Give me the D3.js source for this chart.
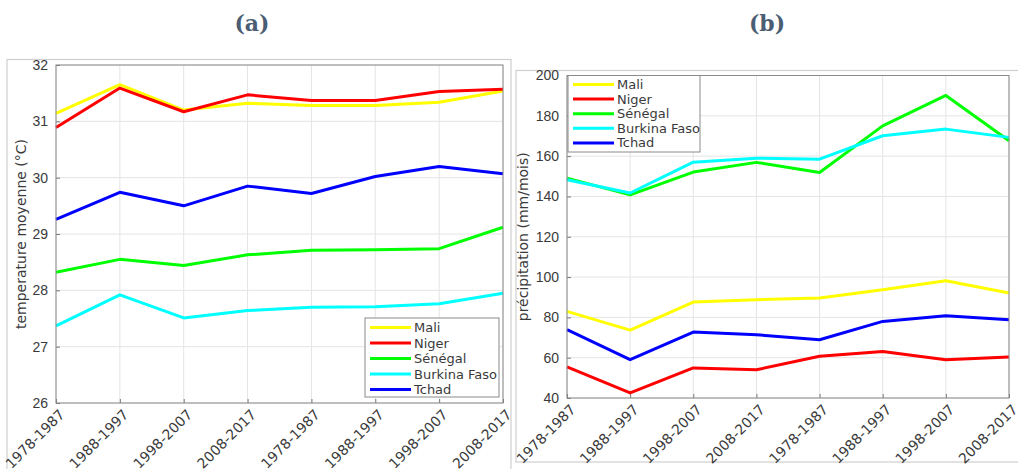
<!DOCTYPE html>
<html>
<head>
<meta charset="utf-8">
<script src="https://cdn.jsdelivr.net/npm/d3@7"></script>
<style>
  body { margin: 0; background: #fff; }
  svg { display: block; font-family: "DejaVu Sans", sans-serif; }
</style>
</head>
<body>
<div id="chart"></div>
<script>
// Periods on the x axis (two repeated decades blocks)
const periods = ["1978-1987", "1988-1997", "1998-2007", "2008-2017",
                 "1978-1987", "1988-1997", "1998-2007", "2008-2017"];

const countries = ["Mali", "Niger", "Sénégal", "Burkina Faso", "Tchad"];
const colors = ["#ffff00", "#ff0000", "#00ff00", "#00ffff", "#0000ff"];

// (a) mean temperature (°C)
const tempMali    = [31.14, 31.65, 31.20, 31.32, 31.28, 31.28, 31.34, 31.54];
const tempNiger   = [30.89, 31.59, 31.17, 31.47, 31.37, 31.37, 31.53, 31.57];
const tempSenegal = [28.32, 28.55, 28.44, 28.63, 28.71, 28.72, 28.74, 29.12];
const tempBurkina = [27.37, 27.92, 27.51, 27.64, 27.70, 27.71, 27.76, 27.95];
const tempTchad   = [29.26, 29.74, 29.50, 29.85, 29.72, 30.02, 30.20, 30.07];
const tempTicks   = [26, 27, 28, 29, 30, 31, 32];

// (b) precipitation (mm/mois)
const precMali    = [83.0, 73.7, 87.6, 88.8, 89.6, 93.7, 98.2, 92.1];
const precNiger   = [55.4, 42.5, 54.9, 54.0, 60.7, 63.1, 59.0, 60.3];
const precSenegal = [149.1, 140.8, 152.1, 156.9, 151.9, 175.0, 190.1, 167.6];
const precBurkina = [148.3, 141.7, 157.0, 159.0, 158.5, 170.1, 173.4, 169.3];
const precTchad   = [73.9, 59.0, 72.7, 71.4, 68.9, 78.0, 80.8, 78.8];
const precTicks   = [40, 60, 80, 100, 120, 140, 160, 180, 200];

const W = 1018, H = 469;
const svg = d3.select("#chart").append("svg")
  .attr("width", W).attr("height", H);

// panel titles
svg.append("text").attr("x", 252).attr("y", 31)
  .attr("text-anchor", "middle")
  .style("font-family", "'DejaVu Serif', serif").style("font-weight", "bold")
  .style("font-size", "22px").attr("fill", "#4b5d73").text("(a)");
svg.append("text").attr("x", 767).attr("y", 31)
  .attr("text-anchor", "middle")
  .style("font-family", "'DejaVu Serif', serif").style("font-weight", "bold")
  .style("font-size", "22px").attr("fill", "#4b5d73").text("(b)");

function drawPanel(opt) {
  // light frame around the panel image
  svg.append("rect")
    .attr("x", opt.frame[0]).attr("y", opt.frame[1])
    .attr("width", opt.frame[2]).attr("height", opt.frame[3])
    .attr("fill", "none").attr("stroke", "#cfcfcf").attr("stroke-width", 1.2);

  const x = d3.scalePoint().domain(d3.range(periods.length))
    .range([opt.left, opt.right]);
  const y = d3.scaleLinear().domain(opt.domain).range([opt.bottom, opt.top]);

  const g = svg.append("g");

  // grid
  g.selectAll(".gx").data(d3.range(periods.length)).enter().append("line")
    .attr("x1", d => x(d)).attr("x2", d => x(d))
    .attr("y1", opt.top).attr("y2", opt.bottom)
    .attr("stroke", "#e4e4e4").attr("stroke-width", 1);
  g.selectAll(".gy").data(opt.ticks).enter().append("line")
    .attr("x1", opt.left).attr("x2", opt.right)
    .attr("y1", d => y(d)).attr("y2", d => y(d))
    .attr("stroke", "#e4e4e4").attr("stroke-width", 1);

  // y axis ticks
  const yAxis = d3.axisLeft(y).tickValues(opt.ticks).tickFormat(d3.format("d"))
    .tickSize(-4).tickPadding(8);
  const ya = g.append("g").attr("transform", `translate(${opt.left},0)`).call(yAxis);
  ya.select(".domain").remove();
  ya.selectAll("line").attr("stroke", "#777");
  ya.selectAll("text").attr("fill", "#3a3a3a").style("font-size", "14px");

  // x axis ticks
  const xAxis = d3.axisBottom(x).tickSize(-4).tickFormat(() => "");
  const xa = g.append("g").attr("transform", `translate(0,${opt.bottom})`).call(xAxis);
  xa.select(".domain").remove();
  xa.selectAll("line").attr("stroke", "#777");
  g.selectAll(".xl").data(periods).enter().append("text")
    .attr("transform", (d, i) => `translate(${x(i) + 6},${opt.bottom + 9}) rotate(-45)`)
    .attr("text-anchor", "end").attr("dy", "0.35em")
    .attr("fill", "#3a3a3a").style("font-size", "14px")
    .text(d => d);

  // y label
  svg.append("text")
    .attr("transform", `translate(${opt.ylabelX},${(opt.top + opt.bottom) / 2}) rotate(-90)`)
    .attr("text-anchor", "middle").attr("dy", "0.35em")
    .attr("fill", "#3a3a3a").style("font-size", "14px")
    .text(opt.ylabel);

  // series
  const line = d3.line().x((d, i) => x(i)).y(d => y(d));
  g.append("g").selectAll("path").data(opt.series).enter()
    .append("path")
    .attr("d", d => line(d))
    .attr("fill", "none")
    .attr("stroke", (d, i) => colors[i])
    .attr("stroke-width", 3)
    .attr("stroke-linejoin", "round");

  // plot box
  g.append("rect")
    .attr("x", opt.left).attr("y", opt.top)
    .attr("width", opt.right - opt.left).attr("height", opt.bottom - opt.top)
    .attr("fill", "none").attr("stroke", "#8a8a8a").attr("stroke-width", 1);

  // legend
  const L = opt.legend;
  const lg = svg.append("g").attr("transform", `translate(${L.x},${L.y})`);
  lg.append("rect").attr("width", L.w).attr("height", L.h)
    .attr("fill", "#fff").attr("stroke", "#8a8a8a").attr("stroke-width", 1);
  countries.forEach((c, i) => {
    const yy = L.first + i * L.step;
    lg.append("line").attr("x1", 5).attr("x2", 46).attr("y1", yy).attr("y2", yy)
      .attr("stroke", colors[i]).attr("stroke-width", 3);
    lg.append("text").attr("x", 49).attr("y", yy).attr("dy", "0.35em")
      .attr("fill", "#3a3a3a").style("font-size", "13px").text(c);
  });
}

drawPanel({
  frame: [7, 59.5, 504, 420],
  left: 56, right: 503, top: 65, bottom: 403,
  domain: [26, 32], ticks: tempTicks,
  series: [tempMali, tempNiger, tempSenegal, tempBurkina, tempTchad],
  ylabel: "temperature moyenne (°C)", ylabelX: 21,
  legend: { x: 365, y: 318, w: 134, h: 79, first: 9.5, step: 15.5 }
});

drawPanel({
  frame: [516, 70.5, 510, 391.5],
  left: 567, right: 1009, top: 75.5, bottom: 398,
  domain: [40, 200], ticks: precTicks,
  series: [precMali, precNiger, precSenegal, precBurkina, precTchad],
  ylabel: "précipitation (mm/mois)", ylabelX: 523,
  legend: { x: 568, y: 75.5, w: 132, h: 76.5, first: 9, step: 14.6 }
});
</script>
</body>
</html>
